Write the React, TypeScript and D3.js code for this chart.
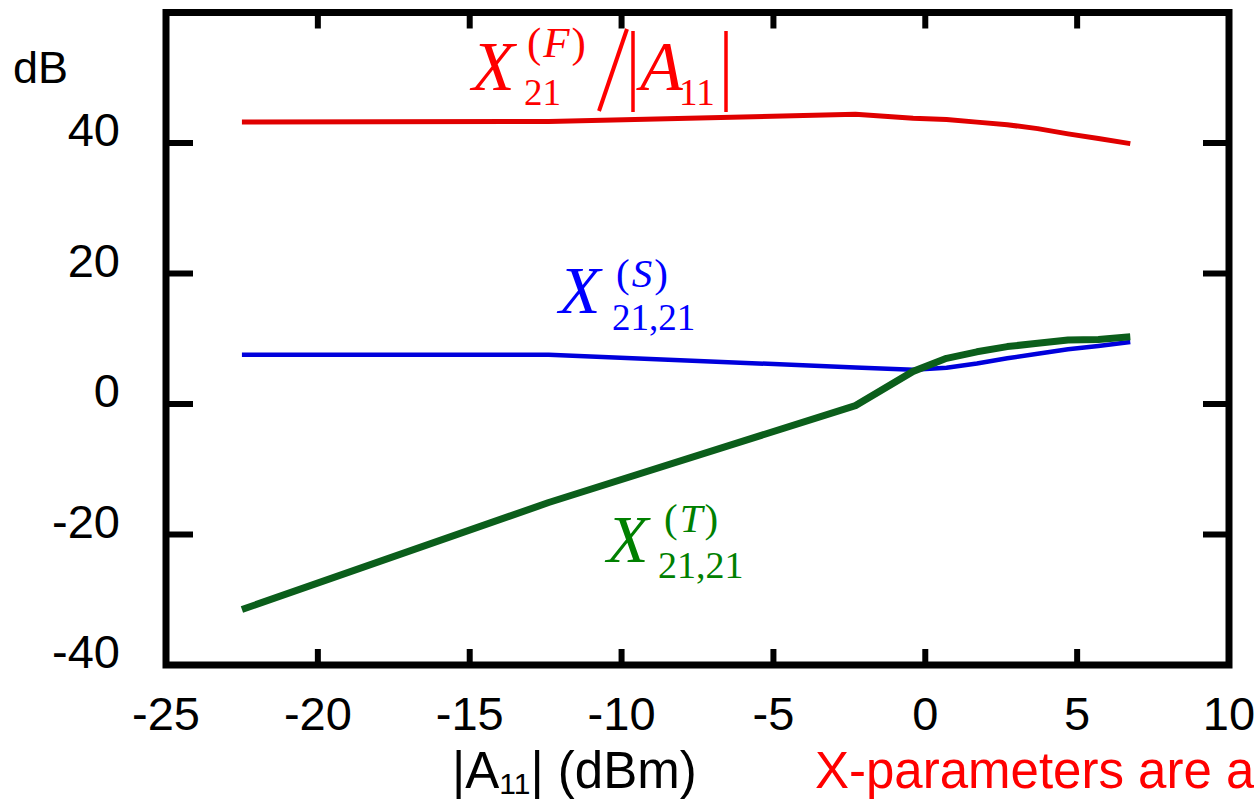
import React from "react";
import * as d3 from "d3";

const xVals = [-22.5, -12.4, -2.3, -0.4, 0.7, 1.7, 2.7, 3.7, 4.7, 5.7, 6.75];
const redF = [43.2, 43.3, 44.4, 43.8, 43.6, 43.2, 42.8, 42.2, 41.4, 40.7, 39.9];
const blueS = [7.55, 7.55, 5.6, 5.25, 5.55, 6.2, 7.0, 7.7, 8.4, 8.9, 9.5];
const greenT = [-31.5, -15.1, -0.25, 5.0, 7.0, 8.0, 8.8, 9.3, 9.8, 9.9, 10.3];

const xTicks = [-25, -20, -15, -10, -5, 0, 5, 10];
const yTicks = [-40, -20, 0, 20, 40];

const W = 1254;
const H = 802;
const SANS = "'Liberation Sans', Arial, Helvetica, sans-serif";
const SERIF = "'Liberation Serif', 'Times New Roman', Times, serif";

export default function App() {
  const x = d3.scaleLinear().domain([-25, 10]).range([166, 1229]);
  const y = d3.scaleLinear().domain([-40, 60]).range([665, 12.5]);
  const line = d3
    .line<number>()
    .x((_, i) => x(xVals[i]))
    .y((d) => y(d))
    .curve(d3.curveLinear);

  const [x0, x1] = x.range();
  const [yb, yt] = y.range();

  return (
    <svg
      width={W}
      height={H}
      viewBox={`0 0 ${W} ${H}`}
      style={{ position: "absolute", left: 0, top: 0, background: "#fff" }}
    >
      <rect x={0} y={0} width={W} height={H} fill="#fff" />
      {/* data lines */}
      <path d={line(redF) || ""} fill="none" stroke="#e00000" strokeWidth={5} strokeLinejoin="round" />
      <path d={line(blueS) || ""} fill="none" stroke="#0000dc" strokeWidth={4.5} strokeLinejoin="round" />
      <path d={line(greenT) || ""} fill="none" stroke="#0b5e1b" strokeWidth={7} strokeLinejoin="round" />

      {/* ticks */}
      {xTicks.slice(1, -1).map((t) => (
        <g key={"xt" + t}>
          <line x1={x(t)} x2={x(t)} y1={yb} y2={yb - 16} stroke="#000" strokeWidth={6} />
          <line x1={x(t)} x2={x(t)} y1={yt} y2={yt + 16} stroke="#000" strokeWidth={6} />
        </g>
      ))}
      {yTicks.slice(1).map((t) => (
        <g key={"yt" + t}>
          <line x1={x0} x2={x0 + 27} y1={y(t)} y2={y(t)} stroke="#000" strokeWidth={6} />
          <line x1={x1} x2={x1 - 26} y1={y(t)} y2={y(t)} stroke="#000" strokeWidth={6} />
        </g>
      ))}
      {/* frame */}
      <rect x={x0} y={yt} width={x1 - x0} height={yb - yt} fill="none" stroke="#000" strokeWidth={7} />

      {/* tick labels */}
      {xTicks.map((t) => (
        <text key={"xl" + t} x={x(t)} y={yb + 65} textAnchor="middle" fontFamily={SANS} fontSize={47} fill="#000">
          {t}
        </text>
      ))}
      {yTicks.map((t) => (
        <text key={"yl" + t} x={120} y={y(t) + 3} textAnchor="end" fontFamily={SANS} fontSize={47} fill="#000">
          {t}
        </text>
      ))}
      <text x={13} y={83} fontFamily={SANS} fontSize={45} fill="#000">dB</text>

      {/* x axis label */}
      <text x={452} y={788} fontFamily={SANS} fontSize={51} fill="#000">
        |A<tspan fontSize={30} dy={6}>11</tspan><tspan dy={-6}>| (dBm)</tspan>
      </text>
      <text x={815} y={788} fontFamily={SANS} fontSize={51} fill="#ff0000">X-parameters are a</text>

      {/* red label X^(F)_21 / |A11| */}
      <g fill="#ff0000" fontFamily={SERIF}>
        <text x={472} y={90} fontSize={70} fontStyle="italic">X</text>
        <text x={527} y={57} fontSize={43} letterSpacing={2}>
          (<tspan fontStyle="italic">F</tspan>)
        </text>
        <text x={524} y={105} fontSize={37}>21</text>
        <text x={640} y={90} fontSize={70} fontStyle="italic">A</text>
        <text x={679} y={105} fontSize={37}>11</text>
      </g>
      <line x1={599} y1={111} x2={627} y2={29} stroke="#ff0000" strokeWidth={4} />
      <line x1={633} y1={31} x2={633} y2={112} stroke="#ff0000" strokeWidth={3.5} />
      <line x1={726} y1={31} x2={726} y2={112} stroke="#ff0000" strokeWidth={3.5} />

      {/* blue label */}
      <g fill="#0000ff" fontFamily={SERIF}>
        <text x={559} y={313} fontSize={68} fontStyle="italic">X</text>
        <text x={616} y={287} fontSize={41} letterSpacing={2}>
          (<tspan fontStyle="italic">S</tspan>)
        </text>
        <text x={612} y={330} fontSize={37}>21,21</text>
      </g>

      {/* green label */}
      <g fill="#008000" fontFamily={SERIF}>
        <text x={607} y={562} fontSize={68} fontStyle="italic">X</text>
        <text x={664} y={532} fontSize={41} letterSpacing={2}>
          (<tspan fontStyle="italic">T</tspan>)
        </text>
        <text x={658} y={578} fontSize={38}>21,21</text>
      </g>
    </svg>
  );
}
